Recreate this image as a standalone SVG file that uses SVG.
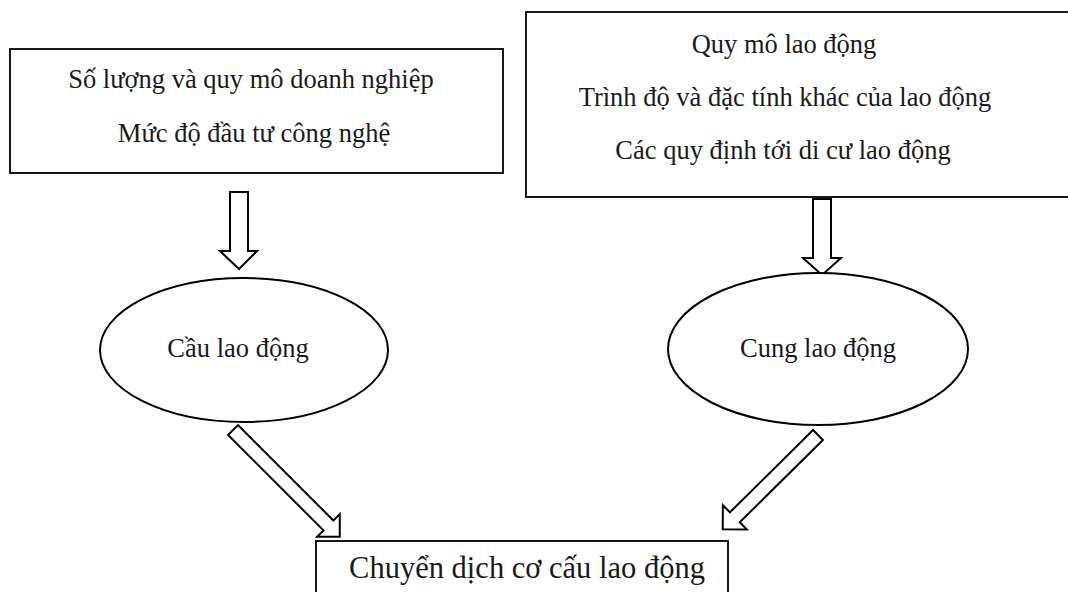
<svg xmlns="http://www.w3.org/2000/svg" width="1068" height="592" viewBox="0 0 1068 592">
<style>
.box{fill:#fff;stroke:#000;stroke-width:1.8}
.ell{fill:#fff;stroke:#000;stroke-width:2}
.arr{fill:#fff;stroke:#000;stroke-width:2;stroke-linejoin:miter}
.t{font-family:"Liberation Serif","Times New Roman",serif;font-size:26.5px;fill:#1a1a1a;text-anchor:middle}
.tb{font-family:"Liberation Serif","Times New Roman",serif;font-size:30.5px;fill:#1a1a1a;text-anchor:middle}
</style>
<rect width="1068" height="592" fill="#fff"/>
<g id="connectors">
<polygon class="arr" points="230,192 248,192 248,251 257,251 239,269 220,251 230,251"/>
<polygon class="arr" points="813,199 831,199 831,258 841,258 822,275 803,258 813,258"/>
<polygon class="arr" transform="translate(233,430) rotate(45)" points="0,-7 135,-7 135,-16 151,0 135,16 135,7 0,7"/>
<polygon class="arr" transform="translate(818,435) rotate(135.3)" points="0,-7 117,-7 117,-17 134,0 117,17 117,7 0,7"/>
</g>
<g id="node-demand-factors">
<rect class="box" x="10" y="49" width="493" height="124"/>
<text class="t" x="251" y="88">Số lượng và quy mô doanh nghiệp</text>
<text class="t" x="254" y="142">Mức độ đầu tư công nghệ</text>
</g>
<g id="node-supply-factors">
<rect class="box" x="526" y="12" width="560" height="185"/>
<text class="t" x="784" y="53">Quy mô lao động</text>
<text class="t" x="785" y="106">Trình độ và đặc tính khác của lao động</text>
<text class="t" x="783" y="159">Các quy định tới di cư lao động</text>
</g>
<g id="node-demand">
<ellipse class="ell" cx="244" cy="350" rx="144" ry="72"/>
<text class="t" x="238" y="357">Cầu lao động</text>
</g>
<g id="node-supply">
<ellipse class="ell" cx="818" cy="349" rx="150" ry="76"/>
<text class="t" x="818" y="357">Cung lao động</text>
</g>
<g id="node-result">
<rect class="box" x="316" y="541" width="412" height="70"/>
<text class="tb" x="527" y="578">Chuyển dịch cơ cấu lao động</text>
</g>
</svg>
